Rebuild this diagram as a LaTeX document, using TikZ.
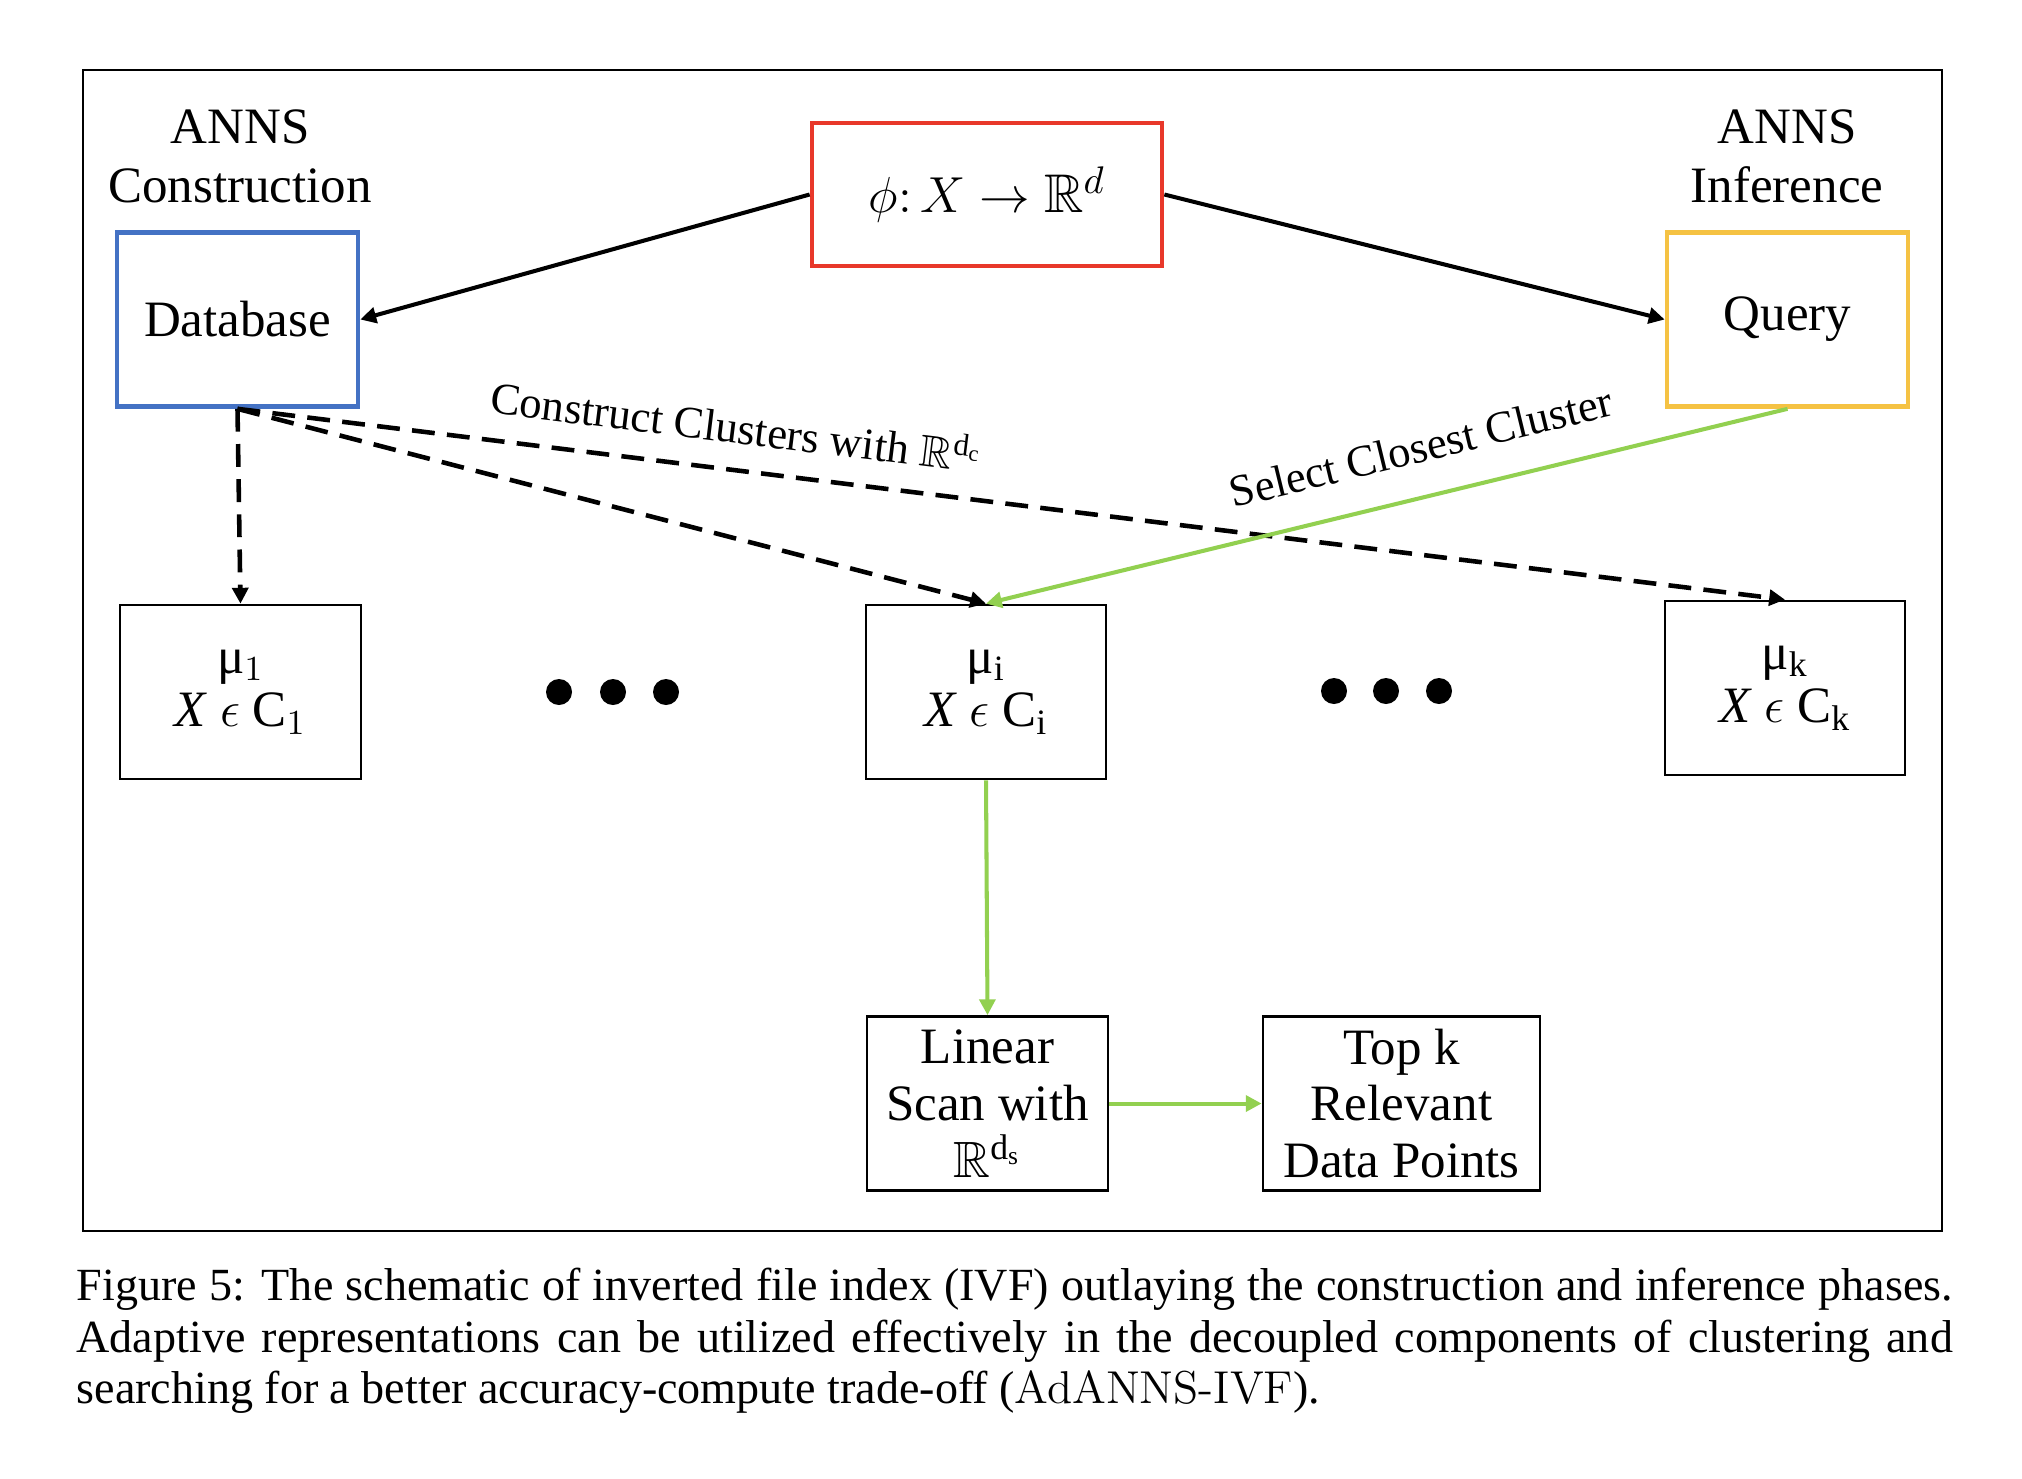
\documentclass[tikz,border=0pt]{standalone}
\usepackage{amsmath,amssymb}
\usepackage{fontspec}
\setmainfont{Liberation Serif}
\usetikzlibrary{arrows.meta}
\definecolor{cblue}{HTML}{4472C4}
\definecolor{cred}{HTML}{E8382A}
\definecolor{cyellow}{HTML}{F5C243}
\definecolor{cgreen}{HTML}{92D050}
\tikzset{
  mainfont/.style={font=\fontsize{14.5}{16.8}\selectfont},
  box/.style={draw, line width=0.75pt, minimum width=2.41cm, minimum height=1.74cm, align=center, inner sep=2pt, mainfont},
  cbox/.style={box, line width=1.3pt},
  mubox/.style={box, font=\fontsize{14.5}{15.2}\selectfont},
  scanbox/.style={box, font=\fontsize{14.5}{16.2}\selectfont},
  hdr/.style={align=center, mainfont},
  lbl/.style={font=\fontsize{12.7}{15}\selectfont, inner sep=0pt, sloped, text=black},
  tip/.style={-{Triangle[length=4.5pt,width=4.5pt]}},
  blk/.style={line width=1.15pt, tip},
  dsh/.style={line width=1.3pt, dash pattern=on 6.5pt off 3.5pt, tip},
  grn/.style={line width=1.15pt, draw=cgreen},
  dotc/.style={fill=black},
  capline/.style={font=\fontsize{13.1}{15}\selectfont, anchor=base west, inner sep=0pt},
}
\newcommand{\lmrm}[1]{{\fontfamily{lmr}\selectfont #1}}
\begin{document}
\begin{tikzpicture}[x=0.01cm,y=-0.01cm]
\useasboundingbox (0,0) rectangle (2022,1478);
\draw[line width=0.7pt] (83,70) rectangle (1942,1231);

\node[hdr] (hc) at (240,156) {ANNS\\Construction};
\node[hdr] (hi) at (1787,156) {ANNS\\Inference};

\node[cbox, draw=cblue] (db) at (237.5,319.5) {Database};
\node[cbox, draw=cyellow] (q) at (1787.5,319.5) {Query};
\node[cbox, draw=cred, minimum width=3.5cm, minimum height=1.43cm, font=\fontsize{15.5}{18}\selectfont] (phi) at (987,194.5) {$\phi{:}\,X\to\mathbb{R}^{d}$};

\node[mubox] (mu1) at (240.5,692) {μ$_{1}$\\\textit{X} $\epsilon$ C$_{1}$};
\node[mubox, minimum width=2.40cm] (mui) at (986,692) {μ$_{\mathrm{i}}$\\\textit{X} $\epsilon$ C$_{\mathrm{i}}$};
\node[mubox, minimum width=2.40cm] (muk) at (1785,688) {μ$_{\mathrm{k}}$\\\textit{X} $\epsilon$ C$_{\mathrm{k}}$};

\fill[dotc] (559,692) circle[radius=0.13cm];
\fill[dotc] (613,692) circle[radius=0.13cm];
\fill[dotc] (666,692) circle[radius=0.13cm];
\fill[dotc] (1334,691) circle[radius=0.13cm];
\fill[dotc] (1386,691) circle[radius=0.13cm];
\fill[dotc] (1439,691) circle[radius=0.13cm];

\node[scanbox] (lin) at (987.5,1103.5) {Linear\\Scan with\\$\mathbb{R}^{\mathrm{d_s}}$};
\node[scanbox, minimum width=2.77cm] (top) at (1401.5,1103.5) {Top k\\Relevant\\Data Points};

\draw[blk] (phi.west) -- (db.east);
\draw[blk] (phi.east) -- (q.west);

\draw[dsh] (db.south) -- (mu1.north);
\draw[dsh] (db.south) -- (mui.north);
\draw[dsh] (db.south) -- node[lbl, pos=0.319, above=0.24cm] {Construct Clusters with $\mathbb{R}^{\mathrm{d_c}}$} (muk.north);

\draw[grn, {Triangle[length=4.5pt,width=4.5pt]}-] (mui.north) -- node[lbl, pos=0.557, above=0.32cm] {Select Closest Cluster} (q.south);
\draw[grn, tip] (mui.south) -- (lin.north);
\draw[grn, tip] (lin.east) -- (top.west);

\node[capline] (cap1) at (76,1300) {\makebox[18.75cm][s]{Figure 5: The schematic of inverted file index (IVF) outlaying the construction and inference phases.}};
\node[capline] (cap2) at (76,1352) {\makebox[18.75cm][s]{Adaptive representations can be utilized effectively in the decoupled components of clustering and}};
\node[capline] (cap3) at (76,1403) {searching for a better accuracy-compute trade-off (\lmrm{AdANNS-IVF}).};
\end{tikzpicture}
\end{document}
